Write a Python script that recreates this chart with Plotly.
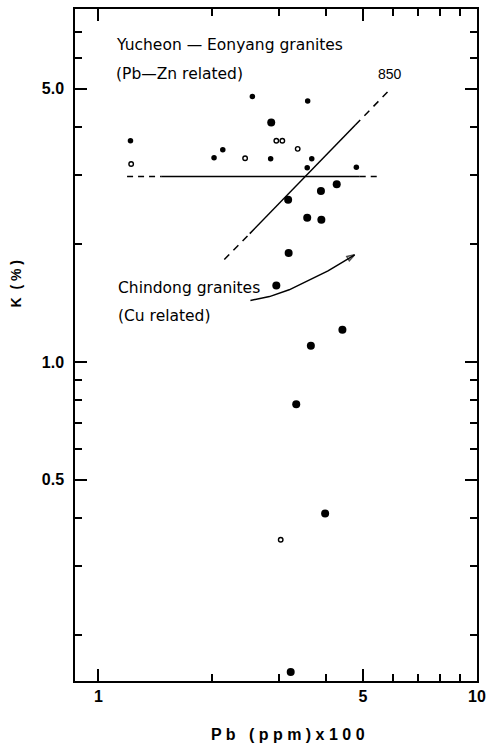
import plotly.graph_objects as go

# ---- data (Pb in ppm x100, K in %) ----
ye_filled_pb = [1.215, 2.02, 2.13, 2.55, 2.85, 3.57, 3.66, 3.56, 4.80]
ye_filled_k = [3.68, 3.33, 3.49, 4.78, 3.31, 4.65, 3.31, 3.14, 3.15]

open_pb = [1.22, 2.44, 2.95, 3.06, 3.36, 3.03]
open_k = [3.21, 3.32, 3.68, 3.68, 3.51, 0.351]

big_pb = [2.86, 4.26, 3.87, 3.17, 3.56, 3.88, 3.18, 2.95, 4.41, 3.64, 3.33, 3.97, 3.22]
big_k = [4.10, 2.85, 2.74, 2.60, 2.34, 2.31, 1.90, 1.57, 1.21, 1.10, 0.78, 0.41, 0.161]

# horizontal K = 3.0 line
h_dash1_pb = [1.19, 1.47]
h_solid_pb = [1.47, 4.90]
h_dash2_pb = [4.90, 5.53]
h_k = [2.98, 2.98]

# 850 ratio line
d_dash1_pb = [2.15, 2.51]
d_dash1_k = [1.83, 2.13]
d_solid_pb = [2.51, 4.77]
d_solid_k = [2.13, 4.04]
d_dash2_pb = [4.77, 5.81]
d_dash2_k = [4.04, 4.91]

# curved arrow
arrow_pb = [2.52, 2.83, 3.19, 3.59, 4.04, 4.45, 4.75]
arrow_k = [1.437, 1.47, 1.53, 1.62, 1.71, 1.81, 1.88]

x_major = [1, 5, 10]
x_major_text = ["1", "5", "10"]
x_minor = [2, 3, 4, 6, 7, 8, 9]
y_major = [0.5, 1, 5]
y_major_text = ["0.5", "1.0", "5.0"]
y_minor = [0.2, 0.3, 0.4, 0.6, 0.7, 0.8, 0.9, 2, 3, 4, 6, 7]

fig = go.Figure()


def add_line(xs, ys, dash="solid"):
    fig.add_trace(go.Scatter(x=xs, y=ys, mode="lines",
                             line=dict(color="black", width=1.5, dash=dash),
                             hoverinfo="skip", showlegend=False))


add_line(h_dash1_pb, h_k, "6px,5px")
add_line(h_solid_pb, h_k)
add_line(h_dash2_pb, h_k, "6px,5px")
add_line(d_dash1_pb, d_dash1_k, "7px,6px")
add_line(d_solid_pb, d_solid_k)
add_line(d_dash2_pb, d_dash2_k, "7px,6px")

fig.add_trace(go.Scatter(
    x=arrow_pb, y=arrow_k, mode="lines+markers",
    line=dict(color="black", width=1.5),
    marker=dict(symbol="arrow-open", angleref="previous",
                size=[0] * (len(arrow_pb) - 1) + [8],
                color="black", line=dict(color="black", width=1.5)),
    hoverinfo="skip", showlegend=False))

fig.add_trace(go.Scatter(x=ye_filled_pb, y=ye_filled_k, mode="markers",
                         marker=dict(size=5.5, color="black"), showlegend=False))
fig.add_trace(go.Scatter(x=open_pb, y=open_k, mode="markers",
                         marker=dict(size=4.5, color="white", symbol="circle",
                                     line=dict(color="black", width=1.4)),
                         showlegend=False))
fig.add_trace(go.Scatter(x=big_pb, y=big_k, mode="markers",
                         marker=dict(size=8, color="black"), showlegend=False))

tickfont = dict(family="Liberation Sans", size=16, color="black", weight="bold")
txtfont = dict(family="DejaVu Sans", size=15.5, color="black")

fig.update_xaxes(type="log", range=[-0.062, 1.0],
                 tickvals=x_major, ticktext=x_major_text,
                 ticks="inside", ticklen=12, tickwidth=1.5, tickcolor="black",
                 showline=True, linecolor="black", linewidth=1.5, mirror="allticks",
                 showgrid=False, zeroline=False, tickfont=tickfont,
                 minor=dict(tickvals=x_minor, ticks="inside", ticklen=7,
                            tickwidth=1.5, tickcolor="black", showgrid=False))
fig.update_yaxes(type="log", range=[-0.816, 0.903],
                 tickvals=y_major, ticktext=y_major_text,
                 ticks="inside", ticklen=12, tickwidth=1.5, tickcolor="black",
                 showline=True, linecolor="black", linewidth=1.5, mirror="allticks",
                 showgrid=False, zeroline=False, tickfont=tickfont,
                 ticklabelstandoff=6,
                 minor=dict(tickvals=y_minor, ticks="inside", ticklen=7,
                            tickwidth=1.5, tickcolor="black", showgrid=False))

ann = [
    dict(text="Yucheon — Eonyang granites", x=0.097, y=0.9466),
    dict(text="(Pb—Zn related)", x=0.097, y=0.9036),
    dict(text="Chindong granites", x=0.1015, y=0.5846),
    dict(text="(Cu related)", x=0.1015, y=0.543),
]
for a in ann:
    fig.add_annotation(text=a["text"], x=a["x"], y=a["y"], xref="paper", yref="paper",
                       xanchor="left", yanchor="middle", showarrow=False, font=txtfont)
fig.add_annotation(text="850", x=0.7835, y=0.9036, xref="paper", yref="paper",
                   xanchor="center", yanchor="middle", showarrow=False,
                   font=dict(family="Liberation Sans Narrow, Liberation Sans", size=14,
                             color="black"))
fig.add_annotation(text="K  ( % )", x=-0.146, y=0.5905, xref="paper", yref="paper",
                   textangle=-90, xanchor="center", yanchor="middle", showarrow=False,
                   font=dict(family="Liberation Sans", size=14, color="black", weight="bold"))
fig.add_annotation(text="P b   ( p p m ) x 1 0 0", x=0.530, y=-0.080,
                   xref="paper", yref="paper", xanchor="center", yanchor="middle",
                   showarrow=False,
                   font=dict(family="Liberation Sans", size=16, color="black", weight="bold"))

fig.update_layout(width=493, height=744, margin=dict(l=75, r=7, t=7, b=63),
                  paper_bgcolor="white", plot_bgcolor="white", showlegend=False)

fig.write_html("out.html", config={"displayModeBar": False},
               post_script="document.body.style.margin='0';")
